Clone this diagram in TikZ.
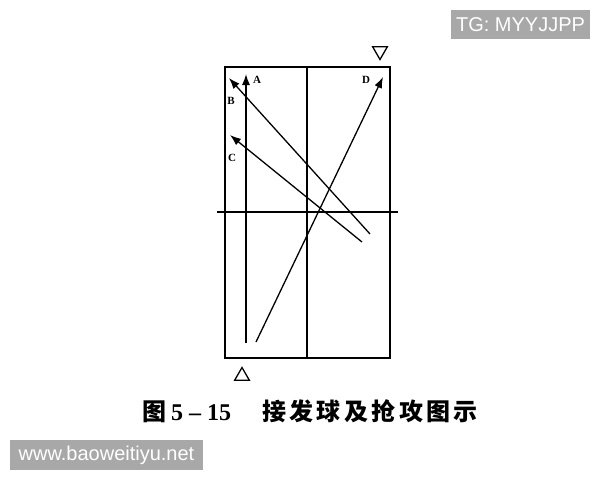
\documentclass[tikz,border=0pt]{standalone}
\usepackage{fontspec}
\newfontfamily\cjk{Noto Sans CJK SC}
\newfontfamily\numfont{Liberation Serif}
\newfontfamily\wmfont{Liberation Sans}
\usetikzlibrary{arrows.meta,shapes.geometric}
\definecolor{wmgray}{HTML}{A8A8A8}
\tikzset{
  shot/.style={line width=1.3pt,-{Latex[length=11pt,width=8pt]}},
  mark label/.style={font=\numfont\bfseries\fontsize{11}{11}\selectfont,inner sep=0pt},
  server/.style={draw,line width=1.3pt,regular polygon,regular polygon sides=3,minimum size=17pt,inner sep=0pt},
  watermark/.style={fill=wmgray,text=white,font=\wmfont\fontsize{20}{20}\selectfont,inner sep=0pt}
}
\begin{document}
\begin{tikzpicture}[x=1pt,y=-1pt]
    \useasboundingbox (0,0) rectangle (600,480);

        % table
    \draw[line width=2pt] (225,67) rectangle (390,358);
    \draw[line width=1.1pt] (307,67) -- (307,358);
    \draw[line width=2.4pt] (217,212) -- (398,212);

        % end points of the shots
    \coordinate (startA) at (246,343);
    \coordinate (startD) at (256,342);
    \coordinate (tipA) at (246,74);
    \coordinate (tipB) at (229,78);
    \coordinate (tipC) at (230,135);
    \coordinate (tipD) at (383,77);
    \coordinate (endB) at (370,234);
    \coordinate (endC) at (362,242);

        % shots
    \draw[shot] (startA) -- (tipA);
    \draw[shot] (endB) -- (tipB);
    \draw[shot] (endC) -- (tipC);
    \draw[shot] (startD) -- (tipD);

    \node[mark label] (labA) at (257,80) {A};
    \node[mark label] (labB) at (231,101) {B};
    \node[mark label] (labC) at (232,158) {C};
    \node[mark label] (labD) at (366,80) {D};

        % players
    \node[server,shape border rotate=180] (far) at (380,51) {};
    \node[server] (near) at (242,376) {};

    \node[font=\bfseries\fontsize{24}{24}\selectfont,inner sep=0pt] (caption) at (310,411)
        {{\cjk 图}\hspace{5pt}{\numfont 5 – 15}\hspace{31pt}{\cjk\addfontfeature{LetterSpace=14}接发球及抢攻图示}};

        % watermarks
    \node[watermark,minimum width=139pt,minimum height=29pt] (tg) at (520.5,24.5) {TG: MYYJJPP};
    \node[watermark,minimum width=193pt,minimum height=30pt] (site) at (106.5,455) {www.baoweitiyu.net};
\end{tikzpicture}
\end{document}
